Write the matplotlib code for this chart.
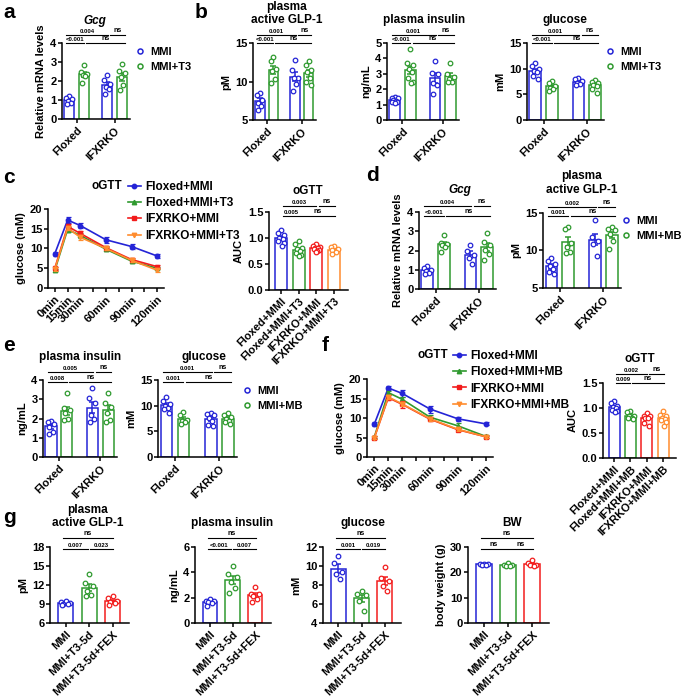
import numpy as np
import matplotlib
matplotlib.use('Agg')
import matplotlib.pyplot as plt
from matplotlib.lines import Line2D

plt.rcParams['font.family'] = ['Liberation Sans', 'DejaVu Sans']
plt.rcParams['font.weight'] = 'bold'
plt.rcParams['axes.labelweight'] = 'bold'
plt.rcParams['font.size'] = 8
plt.rcParams['axes.linewidth'] = 1.1
plt.rcParams['xtick.major.width'] = 1.1
plt.rcParams['ytick.major.width'] = 1.1
plt.rcParams['xtick.major.size'] = 3
plt.rcParams['ytick.major.size'] = 3
plt.rcParams['xtick.major.pad'] = 1.5
plt.rcParams['ytick.major.pad'] = 1

BLUE = '#2424d6'
GREEN = '#2f9a2f'
RED = '#f21c1c'
ORANGE = '#ff8c2e'

# ---------------- data ----------------
geno = ['Floxed', 'IFXRKO']
t3_groups = ['MMI', 'MMI+T3']
mb_groups = ['MMI', 'MMI+MB']
ogtt_t3 = ['Floxed+MMI', 'Floxed+MMI+T3', 'IFXRKO+MMI', 'IFXRKO+MMI+T3']
ogtt_mb = ['Floxed+MMI', 'Floxed+MMI+MB', 'IFXRKO+MMI', 'IFXRKO+MMI+MB']
fex_groups = ['MMI', 'MMI+T3-5d', 'MMI+T3-5d+FEX']
time_min = [0, 15, 30, 60, 90, 120]
time_labels = ['0min', '15min', '30min', '60min', '90min', '120min']

# order of each group list: Floxed MMI, Floxed treat, IFXRKO MMI, IFXRKO treat
a_gcg = [[1.2, 1.1, 1.05, 0.95, 0.85, 0.8],
         [2.85, 2.45, 2.35, 2.3, 2.25, 1.9],
         [2.3, 2.05, 1.85, 1.7, 1.6, 1.3],
         [2.9, 2.5, 2.4, 2.2, 1.8, 1.5]]
a_p = ['0.004', 'ns', '<0.001', 'ns']

b_glp1 = [[8.5, 8.3, 7.6, 7.2, 6.8, 6.3],
          [13.2, 12.7, 11.6, 11.3, 10.3, 9.8],
          [12.8, 11.5, 10.4, 10.5, 9.7, 8.8],
          [12.6, 12.2, 11.5, 11.2, 10.5, 9.9, 9.6]]
b_glp1_p = ['0.001', 'ns', '<0.001', 'ns']
b_ins = [[1.5, 1.45, 1.4, 1.3, 1.25, 1.2, 1.15, 1.1],
         [4.6, 3.7, 3.6, 3.3, 3.1, 2.7, 2.5, 2.4],
         [3.85, 3.08, 3.0, 2.42, 2.3, 1.7],
         [3.7, 3.0, 2.8, 2.65, 2.5, 2.45]]
b_ins_p = ['0.001', 'ns', '<0.001', 'ns']
b_glu = [[11.2, 10.6, 9.9, 9.6, 9.3, 8.6, 7.9],
         [7.6, 7.3, 6.6, 6.3, 6.0, 5.6],
         [8.1, 7.9, 7.6, 7.3, 7.0, 6.9],
         [7.8, 7.5, 7.3, 6.9, 6.6, 6.0, 5.3]]
b_glu_p = ['0.001', 'ns', '<0.001', 'ns']

c_fl_mmi = [8.7, 17.2, 15.8, 12.2, 10.5, 8.1]
c_fl_mmi_sem = [0.5, 0.8, 0.7, 0.7, 0.7, 0.4]
c_fl_t3 = [4.5, 14.8, 13.3, 9.8, 6.8, 5.0]
c_fl_t3_sem = [0.3, 0.6, 0.6, 0.5, 0.4, 0.3]
c_ko_mmi = [5.0, 15.6, 13.8, 10.2, 7.2, 5.4]
c_ko_mmi_sem = [0.4, 0.6, 0.6, 0.5, 0.4, 0.3]
c_ko_t3 = [4.8, 15.2, 12.8, 10.0, 7.0, 4.5]
c_ko_t3_sem = [0.4, 0.6, 0.6, 0.5, 0.4, 0.4]
c_auc = [[1.15, 1.1, 1.05, 1.0, 0.98, 0.95, 0.9, 0.85],
         [0.95, 0.88, 0.8, 0.78, 0.75, 0.72, 0.68, 0.65],
         [0.88, 0.85, 0.83, 0.8, 0.8, 0.78, 0.77, 0.75, 0.73],
         [0.85, 0.82, 0.78, 0.76, 0.73, 0.7]]
c_auc_p = ['0.003', 'ns', '0.005', 'ns']

d_gcg = [[1.2, 1.1, 1.0, 0.95, 0.85, 0.8],
         [2.8, 2.4, 2.35, 2.3, 2.2, 1.9],
         [2.3, 2.0, 1.75, 1.6, 1.3],
         [2.9, 2.45, 2.3, 2.05, 1.8, 1.5]]
d_gcg_p = ['0.004', 'ns', '<0.001', 'ns']
d_glp1 = [[9.0, 8.6, 8.2, 7.9, 7.5, 7.1, 6.8],
          [13.1, 12.9, 11.0, 10.5, 9.8, 9.7],
          [14.1, 11.8, 11.3, 10.9, 9.2],
          [13.1, 12.9, 12.7, 12.2, 11.3, 10.2]]
d_glp1_p = ['0.002', 'ns', '0.001', 'ns']

e_ins = [[1.86, 1.83, 1.74, 1.57, 1.3, 1.22],
         [3.34, 2.52, 2.43, 2.26, 2.0, 1.91],
         [3.57, 3.04, 2.78, 2.17, 2.0, 1.83],
         [3.34, 2.78, 2.6, 2.26, 1.91, 1.83]]
e_ins_p = ['0.005', 'ns', '0.008', 'ns']
e_glu = [[11.7, 10.9, 10.3, 9.9, 9.6, 9.3, 8.6],
         [8.8, 8.2, 7.3, 7.0, 6.8, 6.4],
         [8.5, 8.3, 8.2, 7.6, 7.0, 6.3, 6.0],
         [8.5, 8.2, 7.8, 7.5, 7.0, 6.8, 6.5]]
e_glu_p = ['0.001', 'ns', '0.001', 'ns']

f_fl_mmi = [8.5, 17.7, 16.3, 12.3, 9.8, 8.5]
f_fl_mmi_sem = [0.6, 0.6, 0.8, 0.9, 0.5, 0.4]
f_fl_mb = [5.2, 16.5, 14.8, 10.2, 8.0, 5.3]
f_fl_mb_sem = [0.3, 0.5, 0.7, 0.5, 0.6, 0.3]
f_ko_mmi = [5.0, 15.2, 13.5, 9.7, 7.0, 5.2]
f_ko_mmi_sem = [0.4, 0.7, 0.9, 0.5, 0.4, 0.3]
f_ko_mb = [5.0, 15.4, 13.6, 9.8, 7.1, 5.2]
f_ko_mb_sem = [0.3, 0.5, 0.6, 0.5, 0.4, 0.3]
f_auc = [[1.14, 1.11, 1.04, 1.02, 1.0, 0.97, 0.95, 0.92],
         [0.95, 0.92, 0.85, 0.84, 0.81, 0.8, 0.78],
         [0.9, 0.85, 0.84, 0.81, 0.8, 0.71, 0.65],
         [0.94, 0.87, 0.84, 0.8, 0.79, 0.76, 0.73, 0.65]]
f_auc_p = ['0.002', 'ns', '0.009', 'ns']

g_glp1 = [[9.4, 9.3, 9.2, 9.05, 9.0, 8.9],
          [13.8, 12.3, 11.8, 11.0, 10.5, 10.2],
          [10.3, 9.9, 9.4, 9.3, 9.2, 8.9]]
g_glp1_p = ['ns', '0.007', '0.023']
g_ins = [[1.9, 1.77, 1.7, 1.64, 1.59, 1.38],
         [4.5, 3.9, 3.6, 3.2, 2.8, 2.4],
         [2.83, 2.3, 2.3, 2.17, 1.9, 1.64]]
g_ins_p = ['ns', '<0.001', '0.007']
g_glu = [[11.1, 10.3, 9.4, 9.2, 8.6],
         [7.4, 7.05, 6.9, 6.3, 5.3],
         [9.9, 8.7, 8.45, 7.9, 7.35]]
g_glu_p = ['ns', '0.001', '0.019']
g_bw = [[23.3, 23.2, 23.1, 23.0, 22.9],
        [23.8, 23.0, 22.8, 22.6, 22.5],
        [24.8, 23.5, 23.0, 22.7, 22.6]]
g_bw_p = ['ns', 'ns', 'ns']

# ---------------- layout helpers ----------------
W, H = 682, 696
fig = plt.figure(figsize=(W / 100, H / 100), dpi=100)
JIT = np.array([0, -0.28, 0.28, -0.14, 0.14, -0.22, 0.22, 0.05, -0.07, 0.07])
POS4 = [0, 1, 2.6, 3.6]


def px_axes(l, t, r, b):
    ax = fig.add_axes([l / W, 1 - b / H, (r - l) / W, (b - t) / H])
    ax.spines[['top', 'right']].set_visible(False)
    return ax


def ftext(x, y, s, **kw):
    kw.setdefault('ha', 'center')
    kw.setdefault('va', 'center')
    fig.text(x / W, 1 - y / H, s, **kw)


def bars(ax, pos, data, colors, width=0.7):
    for x, vals, c in zip(pos, data, colors):
        v = np.array(vals)
        m = v.mean()
        se = v.std(ddof=1) / np.sqrt(len(v))
        ax.bar(x, m, width, facecolor='none', edgecolor=c, lw=1.1, zorder=2)
        ax.errorbar(x, m, yerr=se, color=c, capsize=2.5, lw=1.1, capthick=1.1, zorder=3)
        ax.plot(x + JIT[:len(v)] * width, v, 'o', mfc='white', mec=c, ms=3.3, mew=0.9,
                zorder=4, clip_on=False)


def sig(ax, x1, x2, off_px, label):
    hpx = ax.get_position().height * H
    y = 1 + off_px / hpx
    tr = ax.get_xaxis_transform()
    ax.plot([x1, x2], [y, y], color='k', lw=0.8, transform=tr, clip_on=False)
    fs = 5 if label == 'ns' else 4.3
    ax.text((x1 + x2) / 2, y + 1.2 / hpx, label, transform=tr, ha='center', va='bottom',
            fontsize=fs, clip_on=False)


def sig4(ax, pos, labels, low=0, high=8):
    sig(ax, pos[0] - 0.2, pos[2] + 0.05, high, labels[0])
    sig(ax, pos[2] + 0.2, pos[3] + 0.2, high, labels[1])
    sig(ax, pos[0] - 0.2, pos[1] + 0.0, low, labels[2])
    sig(ax, pos[1] + 0.15, pos[3] + 0.2, low, labels[3])


def sig3(ax, labels, low=-2, high=9):
    sig(ax, -0.1, 2.02, high, labels[0])
    sig(ax, -0.1, 0.94, low, labels[1])
    sig(ax, 1.02, 2.02, low, labels[2])


def finish(ax, xt, xl, ylim, yt, ylabel, xlim, fmt=None, pad=3):
    ax.set_xlim(*xlim)
    ax.set_ylim(*ylim)
    ax.set_yticks(yt)
    if fmt:
        ax.set_yticklabels([fmt.format(v) for v in yt])
    ax.set_xticks(xt)
    ax.set_xticklabels(xl, rotation=45, ha='right', va='top', rotation_mode='anchor')
    ax.set_ylabel(ylabel, labelpad=pad)


def geno_panel(box, data, labels, ylim, yt, ylabel, low=0, high=8):
    ax = px_axes(*box)
    bars(ax, POS4, data, [BLUE, GREEN, BLUE, GREEN])
    sig4(ax, POS4, labels, low=low, high=high)
    finish(ax, [0.5, 3.1], geno, ylim, yt, ylabel, (-0.5, 4.15))
    return ax


def bar_legend(x, y, labels):
    hs = [Line2D([], [], marker='o', ls='none', mfc='white', mec=c, ms=3.6, mew=1.1)
          for c in (BLUE, GREEN)]
    fig.legend(hs, labels, loc='upper left', bbox_to_anchor=(x / W, 1 - y / H),
               frameon=False, borderpad=0, borderaxespad=0, handlelength=0.8,
               handletextpad=0.45, labelspacing=0.45)


def line_panel(box, series, sems, names, colors, markers, leg_xy):
    ax = px_axes(*box)
    order = [0, 1, 3, 2]
    for i in order:
        ax.errorbar(time_min, series[i], yerr=sems[i], color=colors[i], marker=markers[i],
                    ms=3.2, lw=1.2, capsize=1.8, elinewidth=0.9, capthick=0.9, zorder=3 + i)
    ax.set_xlim(-8, 128)
    ax.set_ylim(0, 20)
    ax.set_yticks([0, 5, 10, 15, 20])
    ax.set_xticks(np.arange(0, 121, 15))
    lab = dict(zip(time_min, time_labels))
    ax.set_xticklabels([lab.get(t, '') for t in np.arange(0, 121, 15)], rotation=45,
                       ha='right', va='top', rotation_mode='anchor')
    ax.set_ylabel('glucose (mM)', labelpad=3)
    x, y = leg_xy
    ftext(x - 36, y + 5, 'oGTT', ha='left', fontsize=8.5)
    hh = [Line2D([], [], color=c, marker=m, ms=3.2, lw=1.2) for c, m in zip(colors, markers)]
    fig.legend(hh, names, loc='upper left', bbox_to_anchor=(x / W, 1 - y / H),
               frameon=False, borderpad=0, borderaxespad=0, handlelength=1.1,
               handletextpad=0.4, labelspacing=0.36, fontsize=8.5)
    return ax


def auc_panel(box, data, labels, names, colors, low=0, high=10):
    ax = px_axes(*box)
    pos = [0, 1, 2, 3]
    bars(ax, pos, data, colors, width=0.68)
    sig(ax, 0.1, 2.0, high, labels[0])
    sig(ax, 2.12, 3.05, high, labels[1])
    sig(ax, 0.1, 1.0, low, labels[2])
    sig(ax, 1.08, 3.05, low, labels[3])
    finish(ax, pos, names, (0, 1.5), [0, 0.5, 1.0, 1.5], 'AUC', (-0.68, 3.78), fmt='{:.1f}')
    return ax


def fex_panel(box, data, labels, ylim, yt, ylabel):
    ax = px_axes(*box)
    pos = [0, 1, 2]
    bars(ax, pos, data, [BLUE, GREEN, RED], width=0.64)
    sig3(ax, labels)
    finish(ax, pos, fex_groups, ylim, yt, ylabel, (-0.66, 2.7))
    return ax


# ---------------- panel a ----------------
geno_panel((62, 43, 130, 119), a_gcg, a_p, (0, 4), [0, 1, 2, 3, 4], 'Relative mRNA levels')
ftext(95, 21, 'Gcg', style='italic', fontsize=8.5)
bar_legend(136, 47, t3_groups)

# ---------------- panel b ----------------
geno_panel((253, 43, 316, 120), b_glp1, b_glp1_p, (5, 15), [5, 10, 15], 'pM')
ftext(287, 7, 'plasma', fontsize=8.5)
ftext(287, 20, 'active GLP-1', fontsize=8.5)
geno_panel((387, 43, 459, 120), b_ins, b_ins_p, (0, 5), [0, 1, 2, 3, 4, 5], 'ng/mL')
ftext(424, 20, 'plasma insulin', fontsize=8.5)
geno_panel((527, 43, 604, 120), b_glu, b_glu_p, (0, 15), [0, 5, 10, 15], 'mM')
ftext(565, 20, 'glucose', fontsize=8.5)
bar_legend(606, 47, t3_groups)

# ---------------- panel c ----------------
line_panel((48, 209, 164, 288), [c_fl_mmi, c_fl_t3, c_ko_mmi, c_ko_t3],
           [c_fl_mmi_sem, c_fl_t3_sem, c_ko_mmi_sem, c_ko_t3_sem], ogtt_t3,
           [BLUE, GREEN, RED, ORANGE], ['o', '^', 's', 'v'], (128, 181))
auc_panel((269, 212, 348, 290), c_auc, c_auc_p, ogtt_t3, [BLUE, GREEN, RED, ORANGE],
          low=-4, high=6)
ftext(308, 191, 'oGTT', fontsize=8.5)

# ---------------- panel d ----------------
geno_panel((419, 212, 496, 289), d_gcg, d_gcg_p, (0, 4), [0, 1, 2, 3, 4], 'Relative mRNA levels',
           low=-4, high=6)
ftext(460, 190, 'Gcg', style='italic', fontsize=8.5)
geno_panel((543, 213, 621, 288), d_glp1, d_glp1_p, (5, 15), [5, 10, 15], 'pM', low=-3, high=6)
ftext(582, 176, 'plasma', fontsize=8.5)
ftext(582, 190, 'active GLP-1', fontsize=8.5)
bar_legend(622, 216, mb_groups)

# ---------------- panel e ----------------
geno_panel((43, 380, 117, 457), e_ins, e_ins_p, (0, 4), [0, 1, 2, 3, 4], 'ng/mL', low=-2)
ftext(80, 357, 'plasma insulin', fontsize=8.5)
geno_panel((158, 380, 237, 457), e_glu, e_glu_p, (0, 15), [0, 5, 10, 15], 'mM', low=-2)
ftext(204, 357, 'glucose', fontsize=8.5)
bar_legend(243, 386, mb_groups)

# ---------------- panel f ----------------
line_panel((367, 379, 493, 457), [f_fl_mmi, f_fl_mb, f_ko_mmi, f_ko_mb],
           [f_fl_mmi_sem, f_fl_mb_sem, f_ko_mmi_sem, f_ko_mb_sem], ogtt_mb,
           [BLUE, GREEN, RED, ORANGE], ['o', '^', 's', 'v'], (453, 350))
auc_panel((603, 383, 676, 458), f_auc, f_auc_p, ogtt_mb, [BLUE, GREEN, RED, ORANGE],
          low=0, high=9)
ftext(640, 359, 'oGTT', fontsize=8.5)

# ---------------- panel g ----------------
fex_panel((50, 547, 129, 623), g_glp1, g_glp1_p, (6, 18), [6, 9, 12, 15, 18], 'pM')
ftext(88, 510, 'plasma', fontsize=8.5)
ftext(88, 523, 'active GLP-1', fontsize=8.5)
fex_panel((195, 547, 271, 623), g_ins, g_ins_p, (0, 6), [0, 2, 4, 6], 'ng/mL')
ftext(232, 523, 'plasma insulin', fontsize=8.5)
fex_panel((323, 547, 401, 623), g_glu, g_glu_p, (4, 12), [4, 6, 8, 10, 12], 'mM')
ftext(363, 523, 'glucose', fontsize=8.5)
fex_panel((468, 547, 549, 623), g_bw, g_bw_p, (0, 30), [0, 10, 20, 30], 'body weight (g)')
ftext(512, 523, 'BW', fontsize=8.5)

# ---------------- panel letters ----------------
for s, x, y in [('a', 3, 3), ('b', 195, 3), ('c', 3, 168), ('d', 366, 166),
                ('e', 3, 336), ('f', 322, 336), ('g', 3, 508)]:
    ftext(x, y, s, ha='left', va='top', fontsize=15)

fig.savefig('out.png', dpi=100)
